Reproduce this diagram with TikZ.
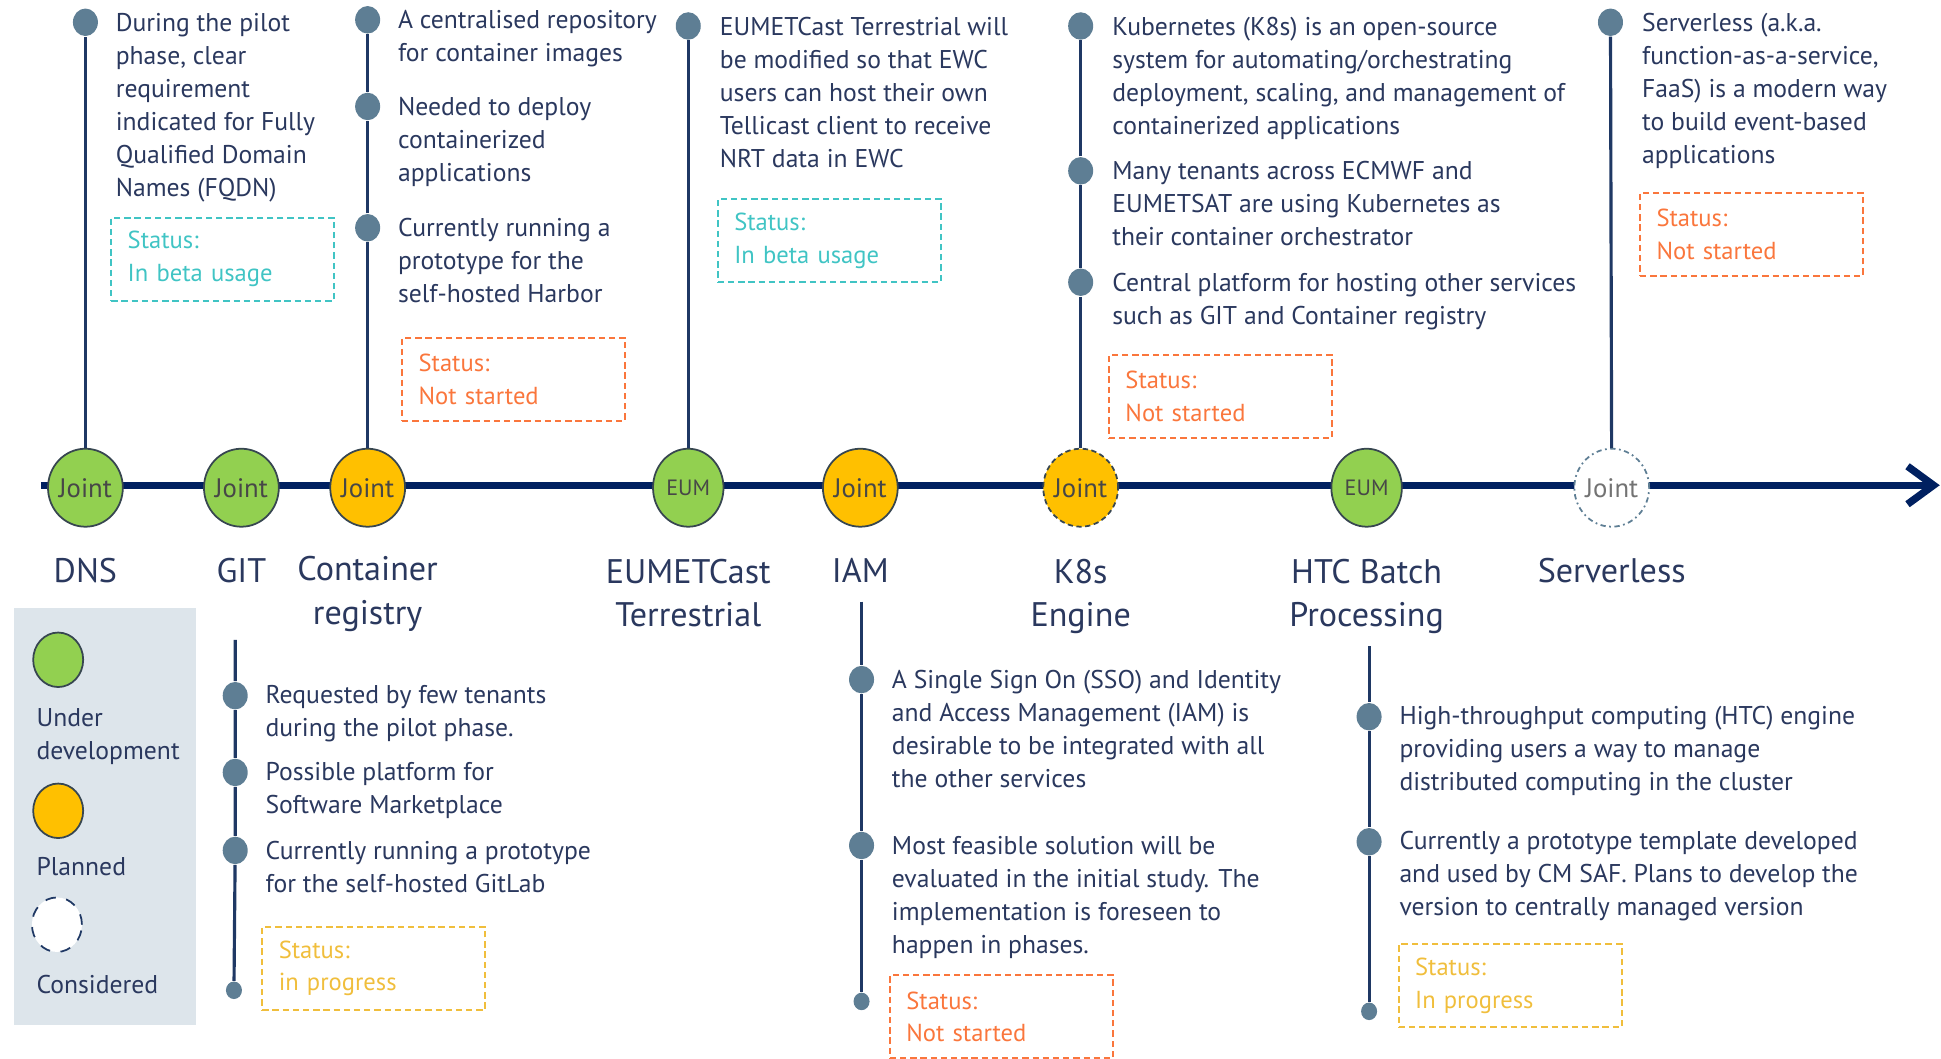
\documentclass[tikz,border=0pt]{standalone}
\usepackage{fontspec}
\setmainfont{PT Sans}
\usetikzlibrary{arrows.meta,shapes.geometric}
\definecolor{navy}{RGB}{0,32,96}
\definecolor{stem}{RGB}{31,56,100}
\definecolor{dot}{RGB}{94,126,148}
\definecolor{ink}{RGB}{42,56,94}
\definecolor{devgreen}{RGB}{146,208,80}
\definecolor{planamber}{RGB}{255,192,0}
\definecolor{betateal}{RGB}{64,196,196}
\definecolor{notorange}{RGB}{250,118,60}
\definecolor{progyellow}{RGB}{240,190,60}
\definecolor{legendbg}{RGB}{221,229,235}
\definecolor{rim}{RGB}{55,70,80}

\tikzset{
  phase/.style={ellipse,draw=rim,line width=0.5pt,minimum width=7.05mm,minimum height=7.8mm,inner sep=0pt,text=black!72,font=\fontsize{7.6}{8}\selectfont},
  dev/.style={phase,fill=devgreen},
  plan/.style={phase,fill=planamber},
  idea/.style={phase,fill=white,draw=dot,text=black!55,dash pattern=on 1.5pt off 1pt on 0.5pt off 1pt},
  bullet/.style={ellipse,fill=dot,minimum width=2.5mm,minimum height=2.75mm,inner sep=0pt},
  tailbullet/.style={ellipse,fill=dot,minimum width=1.6mm,minimum height=1.75mm,inner sep=0pt},
  stemline/.style={draw=stem,line width=0.9pt},
  desc/.style={anchor=north west,inner sep=0pt,align=left,text=ink,font=\fontsize{7.3}{9.4}\selectfont,execute at begin node=\strut},
  topic/.style={anchor=north,inner sep=0pt,align=center,text=ink,font=\fontsize{9.7}{12.4}\selectfont,execute at begin node=\strut},
  statusbox/.style={anchor=north west,draw,dash pattern=on 1.8pt off 1.1pt,line width=0.6pt,minimum width=22.3mm,minimum height=8.3mm,inner xsep=1.6mm,inner ysep=0pt,text width=19mm,align=left,font=\fontsize{7}{9.3}\selectfont},
}

\begin{document}
\begin{tikzpicture}[x=0.1238mm,y=-0.1238mm]
  \useasboundingbox (0,0) rectangle (1568,855);

  % legend
  \fill[legendbg] (11,491) rectangle (158,828);
  \node[dev,minimum width=5mm,minimum height=5.45mm] (legDev) at (47,533) {};
  \node[desc] (legDevT) at (29,572) {Under\\development};
  \node[plan,minimum width=5mm,minimum height=5.45mm] (legPlan) at (47,655) {};
  \node[desc] (legPlanT) at (29,688) {Planned};
  \node[phase,fill=white,draw=stem,dashed,minimum width=5mm,minimum height=5.45mm] (legIdea) at (46,747) {};
  \node[desc] (legIdeaT) at (29,783) {Considered};

  % timeline
  \coordinate (tStart) at (33,392);
  \coordinate (tEnd) at (1567,392);
  \draw[navy,line width=2.1pt,-{Straight Barb[length=2.6mm,width=3.8mm]}] (tStart) -- (tEnd);

  \node[dev] (dns) at (69,394) {Joint};
  \node[dev] (git) at (195,394) {Joint};
  \node[plan] (cont) at (297,394) {Joint};
  \node[dev,font=\fontsize{6.3}{7}\selectfont] (eum) at (556,394) {EUM};
  \node[plan] (iam) at (695,394) {Joint};
  \node[plan,dash pattern=on 1.5pt off 1pt] (kube) at (873,394) {Joint};
  \node[dev,font=\fontsize{6.3}{7}\selectfont] (htc) at (1104,394) {EUM};
  \node[idea] (srv) at (1302,394) {Joint};

  \node[topic] (dnsL) at (69,445) {DNS};
  \node[topic] (gitL) at (195,445) {GIT};
  \node[topic] (contL) at (297,449) {Container\\registry};
  \node[topic] (eumL) at (556,451) {EUMETCast\\Terrestrial};
  \node[topic] (iamL) at (695,445) {IAM};
  \node[topic] (kubeL) at (873,451) {K8s\\Engine};
  \node[topic] (htcL) at (1104,451) {HTC Batch\\Processing};
  \node[topic] (srvL) at (1302,445) {Serverless};

  % DNS
  \node[bullet] (dnsA) at (69,18) {};
  \draw[stemline] (dns) -- (dnsA);
  \node[desc] (dnsT) at (93,10) {During the pilot\\phase, clear\\requirement\\indicated for Fully\\Qualified Domain\\Names (FQDN)};
  \node[statusbox,draw=betateal,text=betateal] (dnsS) at (89,175) {Status:\\In beta usage};

  % container registry
  \node[bullet] (contA) at (297,16) {};
  \node[bullet] (contB) at (297,86) {};
  \node[bullet] (contC) at (297,184) {};
  \draw[stemline] (cont) -- (contC) (contC) -- (contB) (contB) -- (contA);
  \node[desc] (contTa) at (321,8) {A centralised repository\\for container images};
  \node[desc] (contTb) at (321,78) {Needed to deploy\\containerized\\applications};
  \node[desc] (contTc) at (321,176) {Currently running a\\prototype for the\\self-hosted Harbor};
  \node[statusbox,draw=notorange,text=notorange] (contS) at (324,272) {Status:\\Not started};

  % EUMETCast Terrestrial
  \node[bullet] (eumA) at (556,21) {};
  \draw[stemline] (eum) -- (eumA);
  \node[desc] (eumT) at (581,13) {EUMETCast Terrestrial will\\be modified so that EWC\\users can host their own\\Tellicast client to receive\\NRT data in EWC};
  \node[statusbox,draw=betateal,text=betateal] (eumS) at (579,160) {Status:\\In beta usage};

  % K8s engine
  \node[bullet] (kubeA) at (873,21) {};
  \node[bullet] (kubeB) at (873,138) {};
  \node[bullet] (kubeC) at (873,228) {};
  \draw[stemline] (kube) -- (kubeC) (kubeC) -- (kubeB) (kubeB) -- (kubeA);
  \node[desc] (kubeTa) at (898,13) {Kubernetes (K8s) is an open-source\\system for automating/orchestrating\\deployment, scaling, and management of\\containerized applications};
  \node[desc] (kubeTb) at (898,130) {Many tenants across ECMWF and\\EUMETSAT are using Kubernetes as\\their container orchestrator};
  \node[desc] (kubeTc) at (898,220) {Central platform for hosting other services\\such as GIT and Container registry};
  \node[statusbox,draw=notorange,text=notorange] (kubeS) at (895,286) {Status:\\Not started};

  % serverless
  \node[bullet] (srvA) at (1301,18) {};
  \draw[stemline] (srv) -- (srvA);
  \node[desc] (srvT) at (1326,10) {Serverless (a.k.a.\\function-as-a-service,\\FaaS) is a modern way\\to build event-based\\applications};
  \node[statusbox,draw=notorange,text=notorange] (srvS) at (1324,155) {Status:\\Not started};

  % GIT
  \coordinate (gitTop) at (190,517);
  \node[bullet] (gitA) at (190,562) {};
  \node[bullet] (gitB) at (190,624) {};
  \node[bullet] (gitC) at (190,687) {};
  \node[tailbullet] (gitE) at (189,800) {};
  \draw[stemline] (gitTop) -- (gitA) (gitA) -- (gitB) (gitB) -- (gitC) (gitC) -- (gitE);
  \node[desc] (gitTa) at (214,553) {Requested by few tenants\\during the pilot phase.};
  \node[desc] (gitTb) at (214,615) {Possible platform for\\Software Marketplace};
  \node[desc] (gitTc) at (214,679) {Currently running a prototype\\for the self-hosted GitLab};
  \node[statusbox,draw=progyellow,text=progyellow] (gitS) at (211,748) {Status:\\in progress};

  % IAM
  \coordinate (iamTop) at (696,486);
  \node[bullet] (iamA) at (696,549) {};
  \node[bullet] (iamB) at (696,683) {};
  \node[tailbullet] (iamE) at (696,809) {};
  \draw[stemline] (iamTop) -- (iamA) (iamA) -- (iamB) (iamB) -- (iamE);
  \node[desc] (iamTa) at (720,541) {A Single Sign On (SSO) and Identity\\and Access Management (IAM) is\\desirable to be integrated with all\\the other services};
  \node[desc] (iamTb) at (720,675) {Most feasible solution will be\\evaluated in the initial study. The\\implementation is foreseen to\\happen in phases.};
  \node[statusbox,draw=notorange,text=notorange] (iamS) at (718,787) {Status:\\Not started};

  % HTC batch processing
  \coordinate (htcTop) at (1106,522);
  \node[bullet] (htcA) at (1106,579) {};
  \node[bullet] (htcB) at (1106,680) {};
  \node[tailbullet] (htcE) at (1106,817) {};
  \draw[stemline] (htcTop) -- (htcA) (htcA) -- (htcB) (htcB) -- (htcE);
  \node[desc] (htcTa) at (1130,570) {High-throughput computing (HTC) engine\\providing users a way to manage\\distributed computing in the cluster};
  \node[desc] (htcTb) at (1130,671) {Currently a prototype template developed\\and used by CM SAF. Plans to develop the\\version to centrally managed version};
  \node[statusbox,draw=progyellow,text=progyellow] (htcS) at (1129,762) {Status:\\In progress};
\end{tikzpicture}
\end{document}
